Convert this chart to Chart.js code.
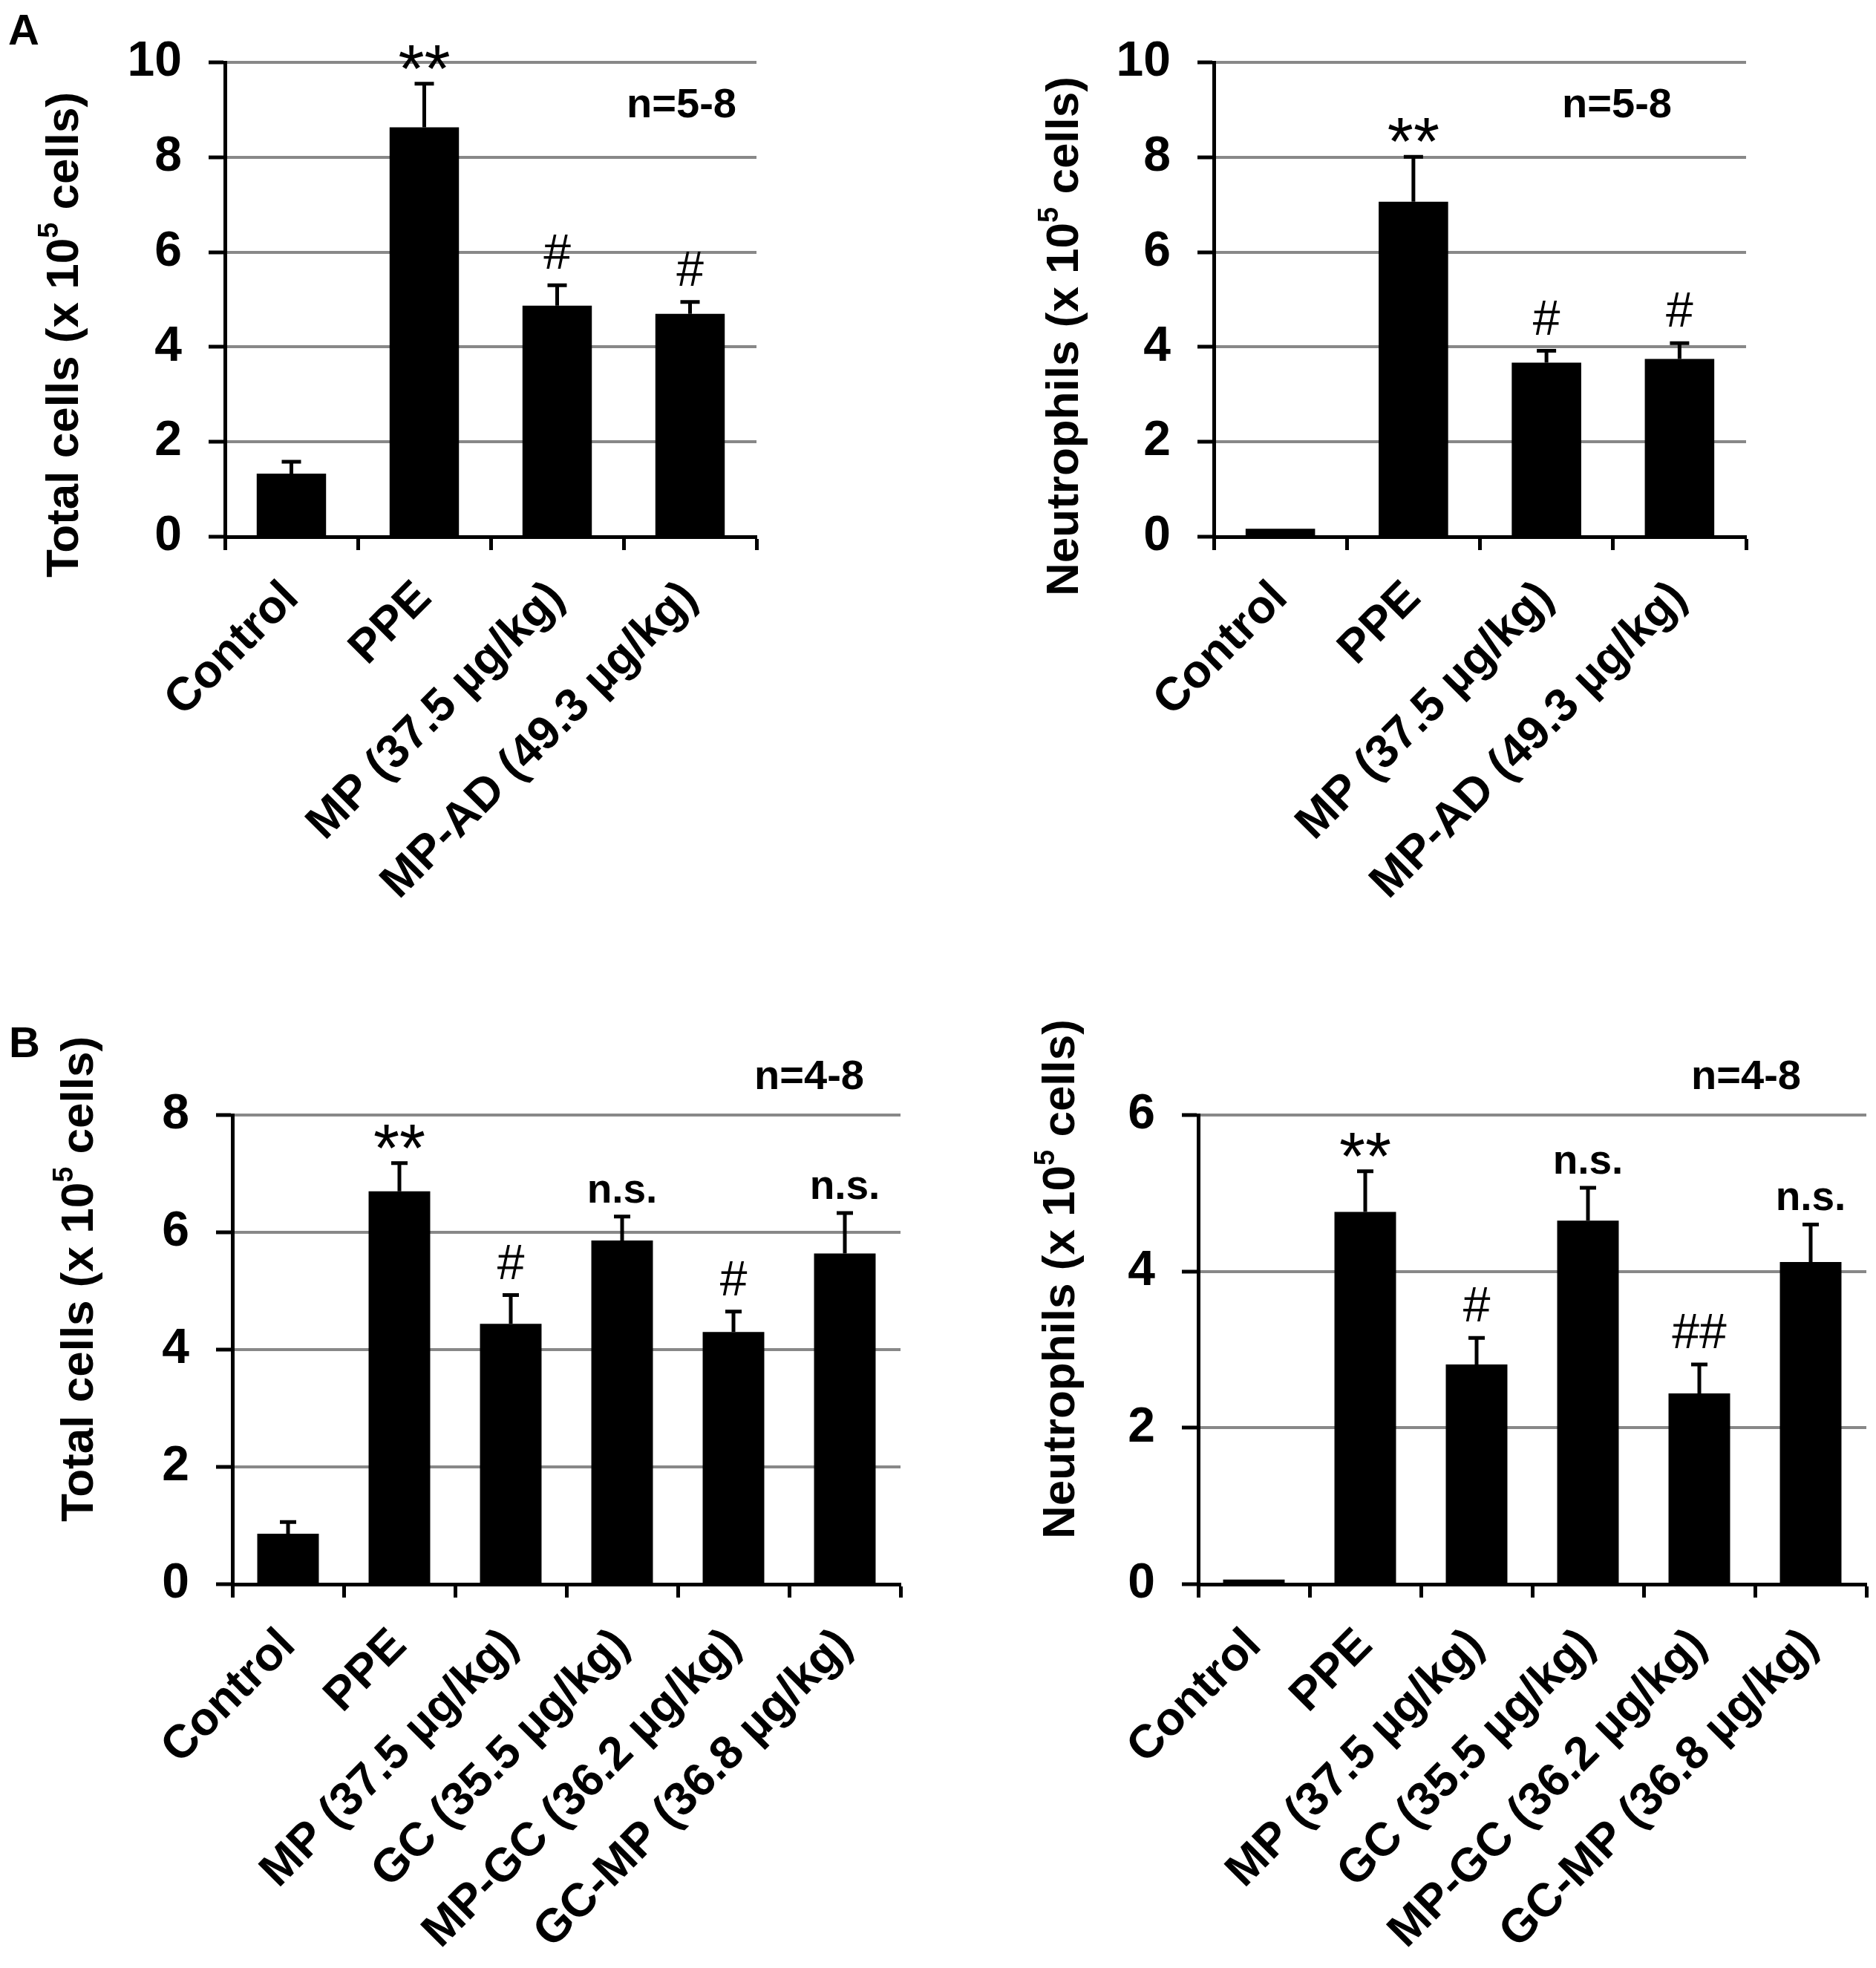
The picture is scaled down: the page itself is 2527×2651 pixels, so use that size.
<!DOCTYPE html>
<html>
<head>
<meta charset="utf-8">
<script src="https://cdn.jsdelivr.net/npm/chart.js@4.4.0/dist/chart.umd.min.js"></script>
<style>
html,body{margin:0;padding:0;background:#fff;}
#page{position:relative;width:2527px;height:2651px;overflow:hidden;font-family:'Liberation Sans',Arial,sans-serif;color:#000;}
.panel{position:absolute;}
.lbl{position:absolute;transform:translate(-50%,-50%);line-height:1;font-weight:bold;white-space:nowrap;}
</style>
</head>
<body>
<div id="page">
  <div class="panel" style="left:0;top:0;width:1263px;height:1325px"><canvas id="c-total-a"></canvas></div>
  <div class="panel" style="left:1263px;top:0;width:1264px;height:1325px"><canvas id="c-neut-a"></canvas></div>
  <div class="panel" style="left:0;top:1325px;width:1263px;height:1326px"><canvas id="c-total-b"></canvas></div>
  <div class="panel" style="left:1263px;top:1325px;width:1264px;height:1326px"><canvas id="c-neut-b"></canvas></div>

  <div class="lbl" style="left:32px;top:40px;font-size:58px">A</div>
  <div class="lbl" style="left:33px;top:1404px;font-size:58px">B</div>
  <div class="lbl" style="left:918px;top:139px;font-size:56px">n=5-8</div>
  <div class="lbl" style="left:2178px;top:139px;font-size:56px">n=5-8</div>
  <div class="lbl" style="left:1090px;top:1448px;font-size:56px">n=4-8</div>
  <div class="lbl" style="left:2352px;top:1448px;font-size:56px">n=4-8</div>
</div>

<script>
/* ── data (x 10^5 cells) ── */
const catA = ['Control', 'PPE', 'MP (37.5 µg/kg)', 'MP-AD (49.3 µg/kg)'];
const catB = ['Control', 'PPE', 'MP (37.5 µg/kg)', 'GC (35.5 µg/kg)', 'MP-GC (36.2 µg/kg)', 'GC-MP (36.8 µg/kg)'];

const totalA     = [1.33, 8.63, 4.87, 4.70];
const totalAErr  = [0.25, 0.92, 0.43, 0.25];
const totalAMark = ['', '**', '#', '#'];

const neutA      = [0.17, 7.06, 3.67, 3.75];
const neutAErr   = [0, 0.95, 0.25, 0.33];
const neutAMark  = ['', '**', '#', '#'];

const totalB     = [0.86, 6.70, 4.44, 5.86, 4.30, 5.64];
const totalBErr  = [0.20, 0.48, 0.49, 0.41, 0.35, 0.69];
const totalBMark = ['', '**', '#', 'n.s.', '#', 'n.s.'];

const neutB      = [0.06, 4.76, 2.81, 4.65, 2.44, 4.12];
const neutBErr   = [0, 0.52, 0.34, 0.42, 0.37, 0.48];
const neutBMark  = ['', '**', '#', 'n.s.', '##', 'n.s.'];

const yMaxA = 10, yMaxTotalB = 8, yMaxNeutB = 6, yStep = 2;

/* ── defaults ── */
const FONT = '"Liberation Sans", Arial, sans-serif';
Chart.defaults.font.family = FONT;
Chart.defaults.color = '#000';

// error bars (upper only) + significance marks
const errorBars = {
  id: 'errorBars',
  afterDatasetsDraw(chart, args, o) {
    const ctx = chart.ctx, y = chart.scales.y;
    const meta = chart.getDatasetMeta(0);
    const vals = chart.data.datasets[0].data;
    ctx.save();
    ctx.strokeStyle = '#000'; ctx.lineWidth = 5; ctx.lineCap = 'butt';
    meta.data.forEach((bar, i) => {
      const e = o.err[i]; if (!e) return;
      const y0 = y.getPixelForValue(vals[i]), y1 = y.getPixelForValue(vals[i] + e);
      ctx.beginPath();
      ctx.moveTo(bar.x, y0); ctx.lineTo(bar.x, y1);
      ctx.moveTo(bar.x - o.cap / 2, y1); ctx.lineTo(bar.x + o.cap / 2, y1);
      ctx.stroke();
    });
    ctx.fillStyle = '#000'; ctx.textAlign = 'center'; ctx.textBaseline = 'alphabetic';
    meta.data.forEach((bar, i) => {
      const m = o.marks[i]; if (!m) return;
      const top = y.getPixelForValue(vals[i] + (o.err[i] || 0));
      const star = m.includes('*'), ns = m === 'n.s.';
      ctx.font = star ? '90px ' + FONT : ns ? 'bold 55px ' + FONT : '66px ' + FONT;
      const gap = star ? 20 : ns ? 18 : 22;
      const mt = ctx.measureText(m);
      ctx.fillText(m, bar.x, top - gap - mt.actualBoundingBoxDescent);
    });
    ctx.restore();
  }
};

// y title with a real superscript
const yTitle = {
  id: 'yTitle',
  afterDraw(chart, args, o) {
    const ctx = chart.ctx;
    const big = 'bold 62px ' + FONT, small = 'bold 38px ' + FONT;
    ctx.save();
    ctx.translate(o.x, o.y); ctx.rotate(-Math.PI / 2);
    ctx.fillStyle = '#000'; ctx.textAlign = 'left'; ctx.textBaseline = 'middle';
    ctx.font = big; const w1 = ctx.measureText(o.head).width, w3 = ctx.measureText(o.tail).width;
    ctx.font = small; const w2 = ctx.measureText(o.sup).width;
    let x = -(w1 + w2 + w3) / 2;
    ctx.font = big; ctx.fillText(o.head, x, 0); x += w1;
    ctx.font = small; ctx.fillText(o.sup, x, -20); x += w2;
    ctx.font = big; ctx.fillText(o.tail, x, 0);
    ctx.restore();
  }
};

function mkChart(id, cats, vals, err, marks, cfg) {
  const Y_W = 200, X_H = cfg.h - cfg.bottom;
  return new Chart(document.getElementById(id), {
    type: 'bar',
    data: { labels: cats, datasets: [{ data: vals, backgroundColor: '#000', borderWidth: 0,
      categoryPercentage: 1, barPercentage: cfg.barPct }] },
    options: {
      responsive: true, maintainAspectRatio: false, animation: false, devicePixelRatio: 1,
      layout: { padding: { left: cfg.left - Y_W, top: cfg.top, right: cfg.w - cfg.right, bottom: 0 } },
      plugins: {
        legend: { display: false }, tooltip: { enabled: false },
        errorBars: { err, marks, cap: cfg.cap },
        yTitle: cfg.title
      },
      scales: {
        x: {
          grid: { display: true, drawOnChartArea: false, drawTicks: true, tickLength: 18, tickColor: '#000', tickWidth: 5 },
          border: { display: true, color: '#000', width: 5 },
          ticks: { autoSkip: false, maxRotation: 45, minRotation: 45, padding: 28, color: '#000',
            font: { size: 63, weight: 'bold' } },
          afterFit(s) { s.height = X_H; s.paddingLeft = 0; s.paddingRight = 0; }
        },
        y: {
          min: 0, max: cfg.max,
          grid: { color: c => (c.tick && c.tick.value === 0) ? 'rgba(0,0,0,0)' : '#888888', lineWidth: 4,
            tickColor: '#000', tickWidth: 5, tickLength: 22 },
          border: { display: true, color: '#000', width: 5 },
          ticks: { stepSize: yStep, padding: 36, color: '#000', font: { size: 66, weight: 'bold' } },
          afterFit(s) { s.width = Y_W; s.paddingTop = 0; s.paddingBottom = 0; }
        }
      }
    },
    plugins: [errorBars, yTitle]
  });
}

mkChart('c-total-a', catA, totalA, totalAErr, totalAMark, {
  w: 1263, h: 1325, left: 303, right: 1019, top: 84, bottom: 723, max: yMaxA, barPct: 0.522, cap: 26,
  title: { x: 88, y: 451, head: 'Total cells (x 10', sup: '5', tail: ' cells)' }
});
mkChart('c-neut-a', catA, neutA, neutAErr, neutAMark, {
  w: 1264, h: 1325, left: 372, right: 1089, top: 84, bottom: 723, max: yMaxA, barPct: 0.522, cap: 26,
  title: { x: 172, y: 453, head: 'Neutrophils (x 10', sup: '5', tail: ' cells)' }
});
mkChart('c-total-b', catB, totalB, totalBErr, totalBMark, {
  w: 1263, h: 1326, left: 313, right: 1213, top: 177, bottom: 809, max: yMaxTotalB, barPct: 0.553, cap: 22,
  title: { x: 108, y: 398, head: 'Total cells (x 10', sup: '5', tail: ' cells)' }
});
mkChart('c-neut-b', catB, neutB, neutBErr, neutBMark, {
  w: 1264, h: 1326, left: 351, right: 1251, top: 177, bottom: 809, max: yMaxNeutB, barPct: 0.553, cap: 22,
  title: { x: 167, y: 398, head: 'Neutrophils (x 10', sup: '5', tail: ' cells)' }
});
</script>
</body>
</html>
